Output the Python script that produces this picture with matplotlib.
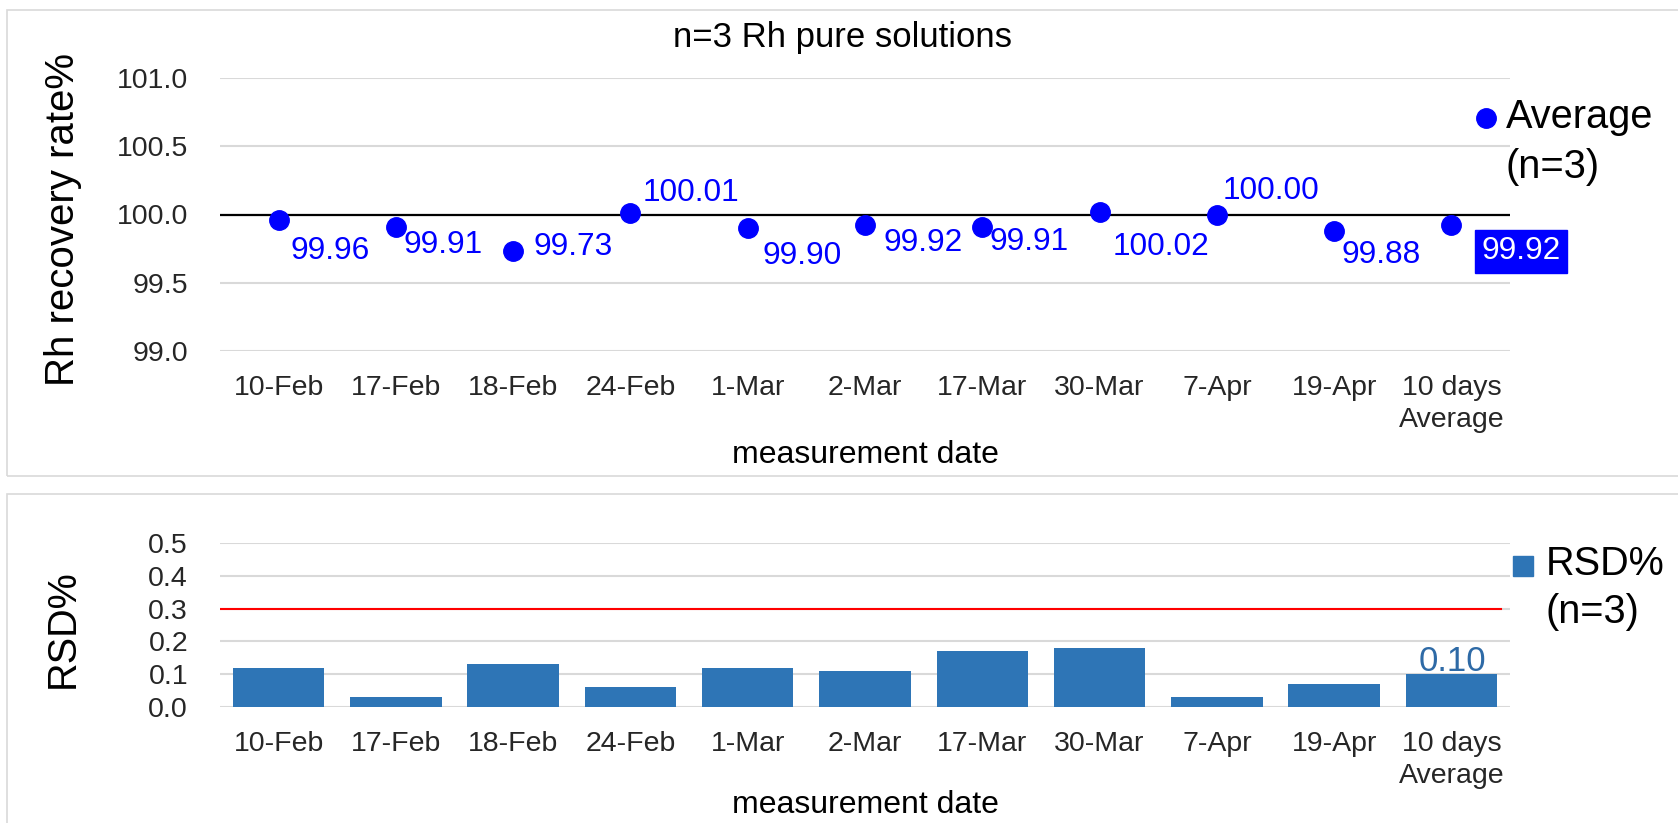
import matplotlib
matplotlib.use("Agg")
import matplotlib.pyplot as plt
from matplotlib.lines import Line2D
from matplotlib.patches import Rectangle

plt.rcParams['font.family'] = ['Liberation Sans', 'DejaVu Sans']

# ---------------- data ----------------
categories = ['10-Feb', '17-Feb', '18-Feb', '24-Feb', '1-Mar', '2-Mar',
              '17-Mar', '30-Mar', '7-Apr', '19-Apr', '10 days\nAverage']
recovery = [99.96, 99.91, 99.73, 100.01, 99.90, 99.92, 99.91, 100.02, 100.00, 99.88, 99.92]
recovery_labels = ['99.96', '99.91', '99.73', '100.01', '99.90', '99.92',
                   '99.91', '100.02', '100.00', '99.88', '99.92']
rsd = [0.12, 0.03, 0.13, 0.06, 0.12, 0.11, 0.17, 0.18, 0.03, 0.07, 0.10]
rsd_avg_label = '0.10'
recovery_ticks = [99.0, 99.5, 100.0, 100.5, 101.0]
rsd_ticks = [0.0, 0.1, 0.2, 0.3, 0.4, 0.5]
target_recovery = 100.0
rsd_limit = 0.3

# ---------------- style ----------------
W, H = 1678, 823
DPI = 100
BLUE = '#0000FF'
BAR = '#2E75B6'
GRID = '#D9D9D9'
TICK = '#262626'

def fx(px):
    return px / W

def fy(py):
    return 1 - py / H

fig = plt.figure(figsize=(W / DPI, H / DPI), dpi=DPI)

# chart-area borders
fig.add_artist(Rectangle((fx(7), fy(476)), fx(1700 - 7), (476 - 10) / H,
                         transform=fig.transFigure, fill=False,
                         edgecolor=GRID, lw=1.2))
fig.add_artist(Rectangle((fx(7), fy(840)), fx(1700 - 7), (840 - 494) / H,
                         transform=fig.transFigure, fill=False,
                         edgecolor=GRID, lw=1.2))

L, R = 220, 1510
ax1 = fig.add_axes([fx(L), fy(351), (R - L) / W, (351 - 78) / H])
ax2 = fig.add_axes([fx(L), fy(707), (R - L) / W, (707 - 543) / H])

x = list(range(len(categories)))

for ax in (ax1, ax2):
    for s in ax.spines.values():
        s.set_visible(False)
    ax.set_xlim(-0.5, len(categories) - 0.5)
    ax.set_xticks(x)
    ax.set_xticklabels(categories)
    ax.tick_params(axis='both', length=0, labelsize=20.5, colors=TICK)
    ax.tick_params(axis='x', pad=17)
    ax.tick_params(axis='y', pad=23)
    ax.yaxis.grid(True, color=GRID, lw=1.5)
    ax.set_axisbelow(True)
    for t in ax.get_xticklabels():
        t.set_linespacing(1.3)

# ---------------- top panel ----------------
ax1.set_ylim(99.0, 101.0)
ax1.set_yticks(recovery_ticks)
ax1.set_yticklabels([f'{v:.1f}' for v in recovery_ticks])
ax1.axhline(target_recovery, color='black', lw=1.6, zorder=2)
ax1.plot(x, recovery, 'o', color=BLUE, ms=14, zorder=3, clip_on=False)

offsets = [(8.6, -22.3), (5.8, -13), (14.4, 2.9), (8.6, 14.4), (10.8, -20.2),
           (13, -13), (5, -10.8), (9.4, -25.2), (4.3, 16.6), (5, -17.3)]
for i, (xi, v, lab) in enumerate(zip(x, recovery, recovery_labels)):
    if i < len(offsets):
        ax1.annotate(lab, (xi, v), xytext=offsets[i], textcoords='offset points',
                     ha='left', va='center', fontsize=22.8, color=BLUE)
    else:
        ax1.annotate(lab, (xi, v), xytext=(50.4, -18.7), textcoords='offset points',
                     ha='center', va='center', fontsize=22.8, color='white',
                     bbox=dict(boxstyle='square,pad=0.2', fc=BLUE, ec=BLUE))

ax1.set_ylabel('Rh recovery rate%', fontsize=29, color='black', va='center')
ax1.yaxis.set_label_coords((63 - L) / (R - L), 0.48)
ax1.set_xlabel('measurement date', fontsize=23, color='black', va='center')
ax1.xaxis.set_label_coords(0.5, (351 - 455) / (351 - 78))

fig.text(fx(842), fy(37), 'n=3 Rh pure solutions', fontsize=25,
         ha='center', va='center', color='black')

# legend (top)
fig.add_artist(Line2D([fx(1486)], [fy(117.5)], marker='o', ms=14, color=BLUE,
                      ls='none', transform=fig.transFigure))
fig.text(fx(1506), fy(117), 'Average', fontsize=28.6, ha='left', va='center')
fig.text(fx(1505), fy(167), '(n=3)', fontsize=28.6, ha='left', va='center')

# ---------------- bottom panel ----------------
ax2.set_ylim(0, 0.5)
ax2.set_yticks(rsd_ticks)
ax2.set_yticklabels([f'{v:.1f}' for v in rsd_ticks])
ax2.bar(x, rsd, width=0.78, color=BAR, zorder=2)
ax2.axhline(rsd_limit, color='#FF0000', lw=1.5, zorder=3, xmin=-0.003, xmax=0.993)
ax2.annotate(rsd_avg_label, (x[-1], rsd[-1]), xytext=(1, 2), textcoords='offset points',
             ha='center', va='baseline', fontsize=25, color='#2E6AA6')

ax2.set_ylabel('RSD%', fontsize=28.5, color='black', va='center')
ax2.yaxis.set_label_coords((63 - L) / (R - L), 0.476)
ax2.set_xlabel('measurement date', fontsize=23, color='black', va='center')
ax2.xaxis.set_label_coords(0.5, (707 - 805) / (707 - 543))

# legend (bottom)
fig.add_artist(Line2D([fx(1523)], [fy(566)], marker='s', ms=15, color=BAR,
                      ls='none', transform=fig.transFigure))
fig.text(fx(1546), fy(564), 'RSD%', fontsize=28.5, ha='left', va='center')
fig.text(fx(1545), fy(612), '(n=3)', fontsize=28.5, ha='left', va='center')

fig.savefig('out.png', dpi=DPI)
